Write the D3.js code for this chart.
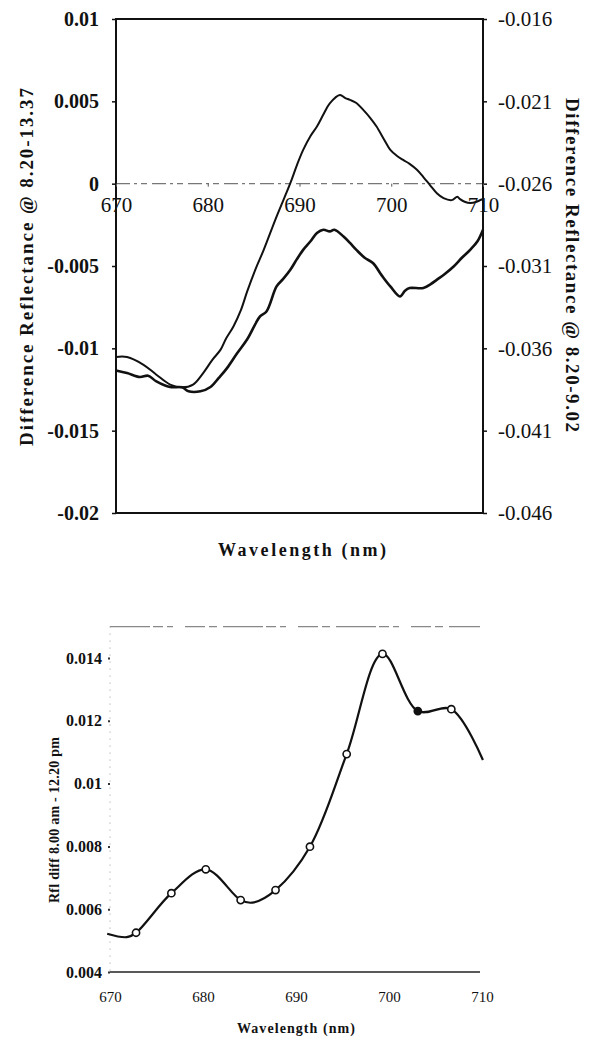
<!DOCTYPE html>
<html><head><meta charset="utf-8">
<script src="https://cdn.jsdelivr.net/npm/d3@7"></script>
<style>html,body{margin:0;padding:0;background:#fff}svg{display:block}</style>
</head><body>
<svg id="c" width="592" height="1037"></svg>
<script>
// ---------- Top chart data ----------
const topWavelengths = [670,671.2,672.6,673.5,674.4,675.9,677.2,677.9,679.2,680.3,681.4,682.1,682.8,684.3,685.7,686.4,687.5,688.0,689.0,689.7,690.4,691.9,693.3,694.4,695.5,697.0,698.4,699.9,701.0,702.0,703.5,705.0,706.8,708.6,710];
// thin curve, left axis (8.20-13.37)
const seriesA = [
  [670,-0.01053],[671.2,-0.01053],[673.0,-0.0110],[674.4,-0.0116],[675.9,-0.0122],[677.2,-0.01237],
  [678.4,-0.0122],[679.5,-0.0115],[680.5,-0.0107],[681.4,-0.01008],[682.0,-0.0094],[682.8,-0.00867],
  [683.6,-0.0077],[684.3,-0.00654],[685.2,-0.0052],[686.1,-0.00402],[687.5,-0.0020],[689.0,0.00003],
  [689.7,0.0011],[690.4,0.00205],[691.2,0.0029],[691.9,0.00347],[692.6,0.0042],[693.3,0.00488],
  [694.4,0.00539],[695.0,0.0052],[695.5,0.00509],[696.2,0.0049],[696.95,0.00448],[697.7,0.0040],
  [698.4,0.00347],[699.2,0.0027],[699.9,0.00205],[700.6,0.0017],[701.3,0.00144],[702.0,0.0012],
  [702.8,0.00084],[703.5,0.0004],[704.2,-0.00007],[705.0,-0.0006],[705.7,-0.00088],[706.6,-0.0010],
  [707.2,-0.0008],[707.5,-0.00094],[708.0,-0.0011],[708.6,-0.00118],[709.3,-0.0011],[709.9,-0.00094]
];
// thick curve, right axis (8.20-9.02)
const seriesB = [
  [670,-0.03734],[671.2,-0.0375],[672.6,-0.03774],[673.5,-0.03766],[674.4,-0.03801],[675.9,-0.03835],
  [677.2,-0.03837],[677.9,-0.03861],[679.2,-0.03861],[680.3,-0.03835],[681.2,-0.0378],[682.1,-0.0372],
  [683.2,-0.0363],[684.3,-0.03545],[685.7,-0.03406],[686.4,-0.03376],[687.5,-0.03224],[688.2,-0.0318],
  [689.0,-0.03123],[689.7,-0.0306],[690.4,-0.03002],[691.2,-0.0295],[691.9,-0.029],[692.6,-0.0288],
  [693.3,-0.0289],[693.8,-0.0288],[694.8,-0.02921],[695.5,-0.0296],[696.2,-0.03002],[697.1,-0.0305],
  [698.0,-0.03082],[699.0,-0.0316],[699.9,-0.03224],[700.95,-0.03285],[701.5,-0.0325],[702.0,-0.03234],
  [703.5,-0.03234],[704.3,-0.0321],[704.95,-0.03184],[705.8,-0.0315],[706.8,-0.03103],[707.7,-0.0305],
  [708.6,-0.03002],[709.4,-0.0295],[710.0,-0.0288]
];
const topXTicks = [670,680,690,700,710];
const topLeftTicks = [0.01,0.005,0,-0.005,-0.01,-0.015,-0.02];
const topLeftLabels = ["0.01","0.005","0","-0.005","-0.01","-0.015","-0.02"];
const topRightTicks = [-0.016,-0.021,-0.026,-0.031,-0.036,-0.041,-0.046];
const topRightLabels = ["-0.016","-0.021","-0.026","-0.031","-0.036","-0.041","-0.046"];

// ---------- Bottom chart data ----------
const curveKnots = [
  [669.7,0.00522],[671.8,0.00511],[672.8,0.00525],[676.6,0.00651],[680.3,0.00727],[684.05,0.00629],
  [685.3,0.00621],[687.8,0.00661],[691.5,0.00799],[695.45,0.01094],[699.3,0.01413],[703.1,0.01231],
  [706.7,0.01237],[710.1,0.01075]
];
const markerWl = [672.8,676.6,680.3,684.05,687.8,691.5,695.45,699.3,703.1,706.7];
const markerVal = [0.00525,0.00651,0.00727,0.00629,0.00661,0.00799,0.01094,0.01413,0.01231,0.01237];
const markerFilled = [false,false,false,false,false,false,false,false,true,false];
const botXTicks = [670,680,690,700,710];
const botYTicks = [0.004,0.006,0.008,0.01,0.012,0.014];
const botYLabels = ["0.004","0.006","0.008","0.01","0.012","0.014"];

const svg = d3.select("#c");
const serif = "'Liberation Serif','Times New Roman',serif";

// ================= TOP CHART =================
const x1 = d3.scaleLinear().domain([670,710]).range([116,483]);
const yL = d3.scaleLinear().domain([-0.02,0.01]).range([513,19]);
const yR = d3.scaleLinear().domain([-0.046,-0.016]).range([513,19]);

const g1 = svg.append("g");
// zero line (dashed, faint)
g1.append("line").attr("x1",x1(670)).attr("x2",x1(710)).attr("y1",yL(0)).attr("y2",yL(0))
  .attr("stroke","#777").attr("stroke-width",1.3).attr("stroke-dasharray","14,4,3,4,6,5");
// frame
g1.append("rect").attr("x",x1(670)).attr("y",yL(0.01)).attr("width",x1(710)-x1(670)).attr("height",yL(-0.02)-yL(0.01))
  .attr("fill","none").attr("stroke","#111").attr("stroke-width",2);

// left axis ticks + labels
const leftAx = d3.axisLeft(yL).tickValues(topLeftTicks).tickSize(4).tickFormat((d,i)=>topLeftLabels[i]);
const la = g1.append("g").attr("transform",`translate(${x1(670)},0)`).call(leftAx);
la.select(".domain").remove();
la.selectAll("line").attr("stroke","#111").attr("stroke-width",1.5);
la.selectAll("text").attr("x",-17).attr("font-family",serif).attr("font-size",20).attr("font-weight","bold").attr("fill","#111");

const rightAx = d3.axisRight(yR).tickValues(topRightTicks).tickSize(4).tickFormat((d,i)=>topRightLabels[i]);
const ra = g1.append("g").attr("transform",`translate(${x1(710)},0)`).call(rightAx);
ra.select(".domain").remove();
ra.selectAll("line").attr("stroke","#111").attr("stroke-width",1.5);
ra.selectAll("text").attr("x",15).attr("font-family",serif).attr("font-size",21).attr("fill","#111");

// x labels at zero line
const xAx = d3.axisBottom(x1).tickValues(topXTicks).tickSize(3).tickFormat(d3.format("d"));
const xa = g1.append("g").attr("transform",`translate(0,${yL(0)})`).call(xAx);
xa.select(".domain").remove();
xa.selectAll("line").attr("stroke","#555");
xa.selectAll("text").attr("y",13).attr("font-family",serif).attr("font-size",21).attr("fill","#111");

// curves
const lineA = d3.line().x(d=>x1(d[0])).y(d=>yL(d[1])).curve(d3.curveCatmullRom);
const lineB = d3.line().x(d=>x1(d[0])).y(d=>yR(d[1])).curve(d3.curveCatmullRom);
g1.append("path").attr("d",lineA(seriesA)).attr("fill","none").attr("stroke","#111").attr("stroke-width",2);
g1.append("path").attr("d",lineB(seriesB)).attr("fill","none").attr("stroke","#111").attr("stroke-width",2.6);

// titles
g1.append("text").attr("transform","translate(33,267) rotate(-90)").attr("text-anchor","middle")
  .attr("font-family",serif).attr("font-weight","bold").attr("font-size",19).attr("fill","#111")
  .attr("textLength",358).attr("lengthAdjust","spacing")
  .text("Difference Reflectance @ 8.20-13.37");
g1.append("text").attr("transform","translate(566,265) rotate(90)").attr("text-anchor","middle")
  .attr("font-family",serif).attr("font-weight","bold").attr("font-size",19).attr("fill","#111")
  .attr("textLength",334).attr("lengthAdjust","spacing")
  .text("Difference Reflectance @ 8.20-9.02");
g1.append("text").attr("x",302).attr("y",556).attr("text-anchor","middle")
  .attr("font-family",serif).attr("font-weight","bold").attr("font-size",18).attr("fill","#111")
  .attr("textLength",168).attr("lengthAdjust","spacing")
  .text("Wavelength (nm)");

// ================= BOTTOM CHART =================
const x2 = d3.scaleLinear().domain([670,710]).range([110,482]);
const y2 = d3.scaleLinear().domain([0.004,0.015]).range([972,626.6]);
const g2 = svg.append("g");

// top border (faint, broken)
g2.append("line").attr("x1",x2(670)).attr("x2",480).attr("y1",y2(0.015)).attr("y2",y2(0.015))
  .attr("stroke","#888").attr("stroke-width",1.4).attr("stroke-dasharray","40,3,10,4,6,12,20,4,8,6");
// left axis dotted
g2.append("line").attr("x1",x2(670)).attr("x2",x2(670)).attr("y1",y2(0.015)).attr("y2",y2(0.004))
  .attr("stroke","#999").attr("stroke-width",1).attr("stroke-dasharray","1,6");
// bottom axis
g2.append("line").attr("x1",x2(670)).attr("x2",480).attr("y1",y2(0.004)).attr("y2",y2(0.004))
  .attr("stroke","#222").attr("stroke-width",1.6);

const bl = d3.axisLeft(y2).tickValues(botYTicks).tickSize(2).tickFormat((d,i)=>botYLabels[i]);
const bla = g2.append("g").attr("transform",`translate(${x2(670)},0)`).call(bl);
bla.select(".domain").remove();
bla.selectAll("line").attr("stroke","#333").attr("stroke-width",2);
bla.selectAll("text").attr("x",-8).attr("font-family",serif).attr("font-size",16).attr("font-weight","bold").attr("fill","#111");

const bb = d3.axisBottom(x2).tickValues(botXTicks).tickSize(0).tickFormat(d3.format("d"));
const bba = g2.append("g").attr("transform",`translate(0,${y2(0.004)})`).call(bb);
bba.select(".domain").remove();
bba.selectAll("text").attr("y",19).attr("font-family",serif).attr("font-size",15).attr("fill","#111");

const line2 = d3.line().x(d=>x2(d[0])).y(d=>y2(d[1])).curve(d3.curveCatmullRom.alpha(0.5));
g2.append("path").attr("d",line2(curveKnots)).attr("fill","none").attr("stroke","#111").attr("stroke-width",2.2);

g2.selectAll("circle.m").data(markerWl).join("circle").attr("class","m")
  .attr("cx",d=>x2(d)).attr("cy",(d,i)=>y2(markerVal[i])).attr("r",3.6)
  .attr("fill",(d,i)=>markerFilled[i]?"#111":"#fff").attr("stroke","#111").attr("stroke-width",1.6);

g2.append("text").attr("transform","translate(59,820) rotate(-90)").attr("text-anchor","middle")
  .attr("font-family",serif).attr("font-weight","bold").attr("font-size",14).attr("fill","#111")
  .attr("textLength",166).attr("lengthAdjust","spacing")
  .text("Rfl diff 8.00 am - 12.20 pm");
g2.append("text").attr("x",296).attr("y",1033).attr("text-anchor","middle")
  .attr("font-family",serif).attr("font-weight","bold").attr("font-size",14).attr("fill","#111")
  .attr("textLength",118).attr("lengthAdjust","spacing")
  .text("Wavelength (nm)");
</script>
</body></html>
